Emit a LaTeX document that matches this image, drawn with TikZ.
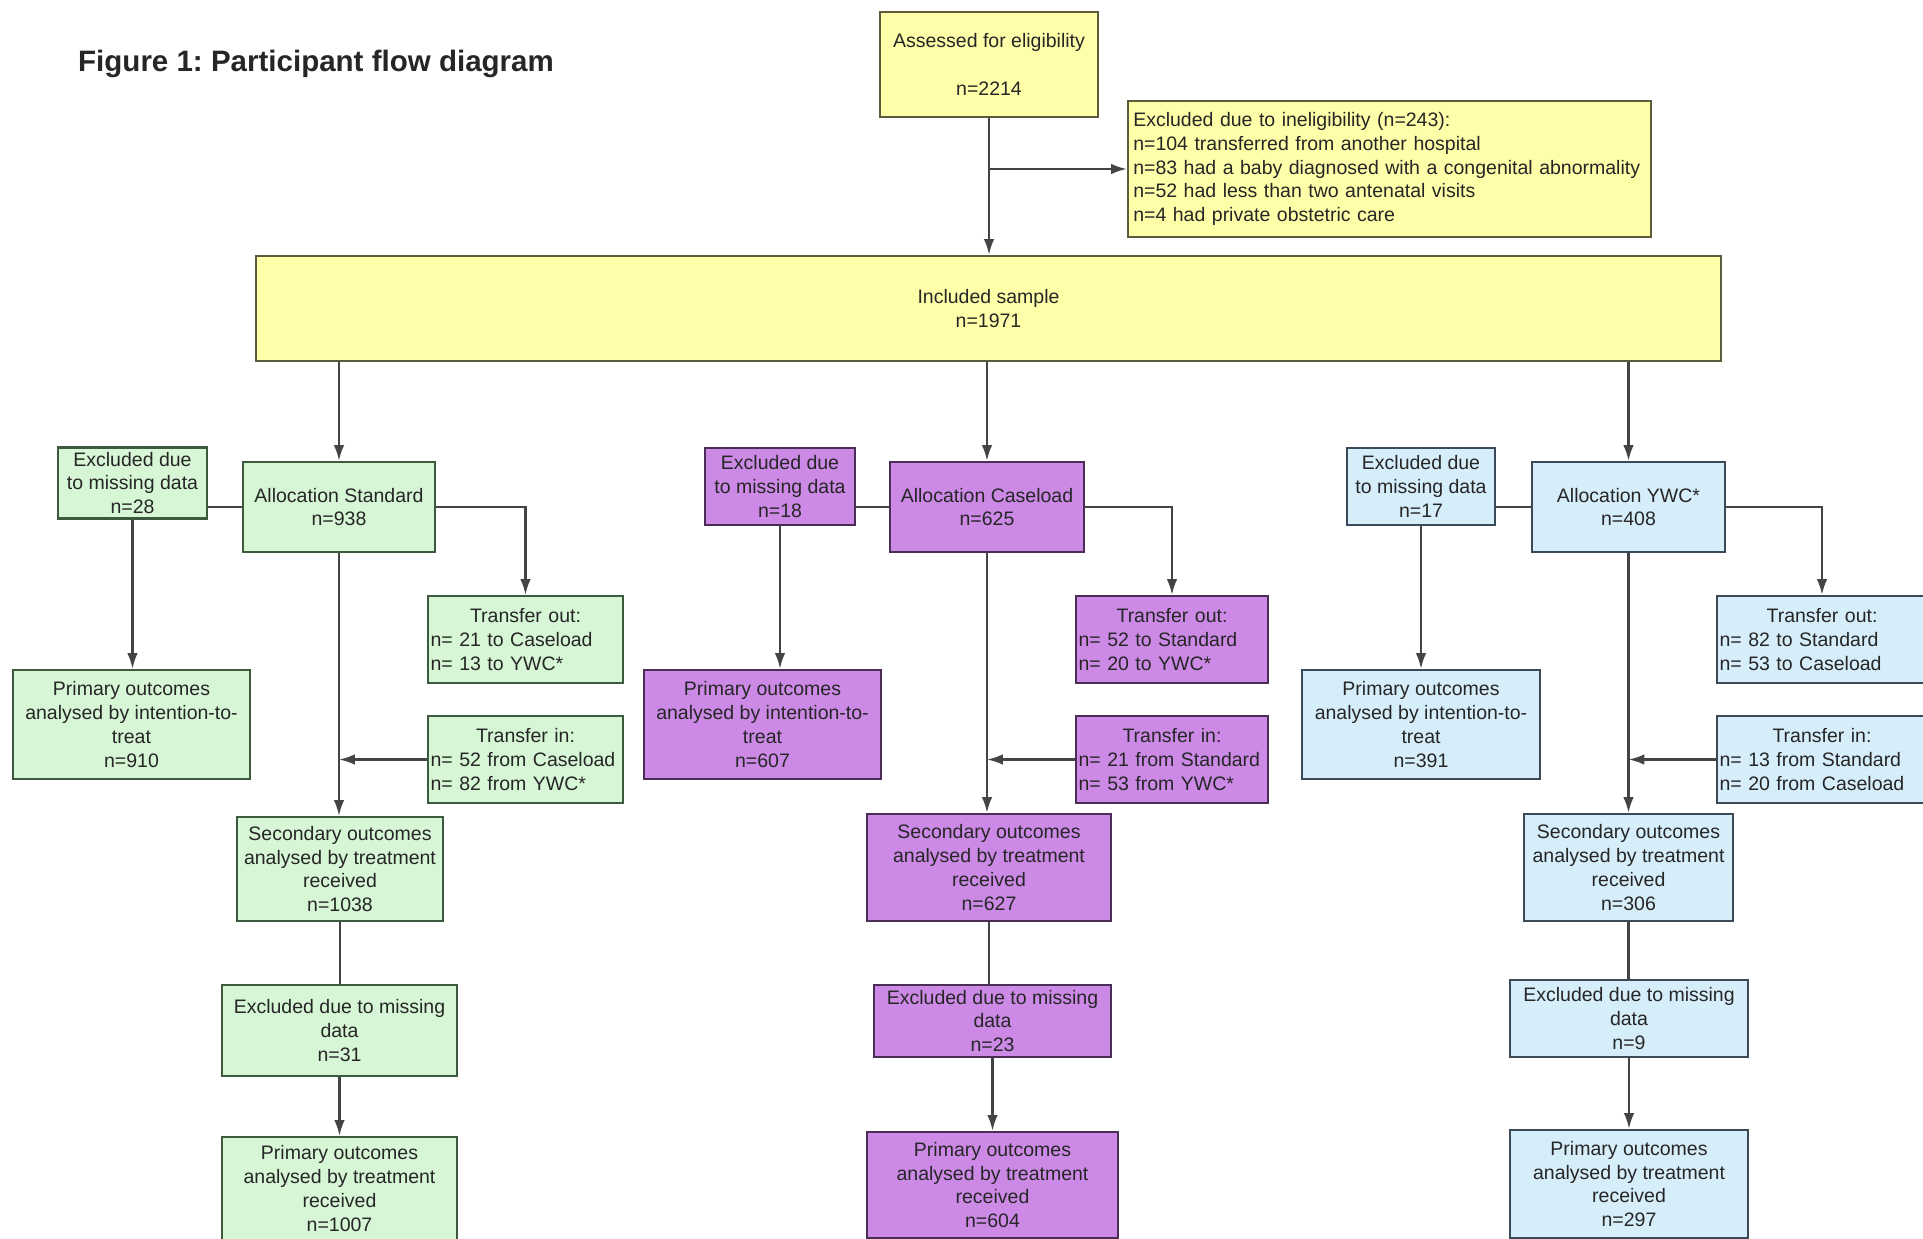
\documentclass[tikz,border=0pt]{standalone}
\usepackage{fontspec}
\setmainfont{Liberation Sans}
\usetikzlibrary{arrows.meta}
\frenchspacing

\definecolor{yfill}{HTML}{FFFFAA}
\definecolor{yline}{HTML}{5C5C3A}
\definecolor{gfill}{HTML}{D6F6D6}
\definecolor{gline}{HTML}{3E5A3E}
\definecolor{pfill}{HTML}{CC8AE6}
\definecolor{pline}{HTML}{4A2E58}
\definecolor{bfill}{HTML}{D6EDFA}
\definecolor{bline}{HTML}{3C4A58}
\definecolor{conncol}{HTML}{444444}

\begin{document}
\begin{tikzpicture}[x=0.02cm, y=-0.02cm,
  box/.style={draw, line width=1.3pt, inner sep=2.5pt, align=center,
    font=\fontsize{11.1}{13.6}\selectfont, text=black!85},
  ylw/.style={box, fill=yfill, draw=yline},
  grn/.style={box, fill=gfill, draw=gline},
  prp/.style={box, fill=pfill, draw=pline},
  blu/.style={box, fill=bfill, draw=bline},
  xfer/.style={inner xsep=1pt, align=left},
  conn/.style={draw=conncol, line width=1.3pt},
  arr/.style={conn, -{Latex[length=9pt,width=6pt]}}]
\useasboundingbox (0,0) rectangle (1923,1238);

% title and top part
\node[anchor=west, font=\bfseries\fontsize{16.8}{20}\selectfont, text=black!85] (title) at (72,64) {Figure 1: Participant flow diagram};
\node[ylw, minimum width=4.36cm, minimum height=2.1cm] (assess) at (989,64.5) {Assessed for eligibility\\[13.6pt] n=2214};
\node[ylw, minimum width=10.46cm, minimum height=2.72cm, text width=10.25cm, align=left] (inelig) at (1389.5,169)
  {Excluded due to ineligibility (n=243):\\ n=104 transferred from another hospital\\ n=83 had a baby diagnosed with a congenital abnormality\\ n=52 had less than two antenatal visits\\ n=4 had private obstetric care};
\node[ylw, minimum width=29.3cm, minimum height=2.1cm] (incl) at (988.5,308.5) {Included sample\\ n=1971};

% Standard
\node[grn, minimum width=2.98cm, minimum height=1.4cm] (exS) at (132.5,483) {Excluded due\\ to missing data\\ n=28};
\node[grn, minimum width=3.84cm, minimum height=1.8cm] (allocS) at (339,507) {Allocation Standard\\ n=938};
\node[grn, xfer, minimum width=3.9cm, minimum height=1.74cm, text width=3.8cm] (outS) at (525.5,639.5)
  {\makebox[\linewidth]{Transfer out:}\\ n= 21 to Caseload\\ n= 13 to YWC*};
\node[grn, minimum width=4.74cm, minimum height=2.18cm] (ittS) at (131.5,724.5) {Primary outcomes\\ analysed by intention-to-\\ treat\\ n=910};
\node[grn, xfer, minimum width=3.9cm, minimum height=1.74cm, text width=3.8cm] (inS) at (525.5,759.5)
  {\makebox[\linewidth]{Transfer in:}\\ n= 52 from Caseload\\ n= 82 from YWC*};
\node[grn, minimum width=4.12cm, minimum height=2.08cm] (secS) at (340,869) {Secondary outcomes\\ analysed by treatment\\ received\\ n=1038};
\node[grn, minimum width=4.7cm, minimum height=1.82cm] (exmS) at (339.5,1030.5) {Excluded due to missing\\ data\\ n=31};
\node[grn, minimum width=4.7cm, minimum height=2.06cm] (trS) at (339.5,1188.5) {Primary outcomes\\ analysed by treatment\\ received\\ n=1007};

% Caseload
\node[prp, minimum width=3.0cm, minimum height=1.54cm] (exC) at (780,486.5) {Excluded due\\ to missing data\\ n=18};
\node[prp, minimum width=3.88cm, minimum height=1.8cm] (allocC) at (987,507) {Allocation Caseload\\ n=625};
\node[prp, xfer, minimum width=3.84cm, minimum height=1.74cm, text width=3.74cm] (outC) at (1172,639.5)
  {\makebox[\linewidth]{Transfer out:}\\ n= 52 to Standard\\ n= 20 to YWC*};
\node[prp, minimum width=4.74cm, minimum height=2.18cm] (ittC) at (762.5,724.5) {Primary outcomes\\ analysed by intention-to-\\ treat\\ n=607};
\node[prp, xfer, minimum width=3.84cm, minimum height=1.74cm, text width=3.74cm] (inC) at (1172,759.5)
  {\makebox[\linewidth]{Transfer in:}\\ n= 21 from Standard\\ n= 53 from YWC*};
\node[prp, minimum width=4.88cm, minimum height=2.14cm] (secC) at (989,867.5) {Secondary outcomes\\ analysed by treatment\\ received\\ n=627};
\node[prp, minimum width=4.74cm, minimum height=1.44cm] (exmC) at (992.5,1021) {Excluded due to missing\\ data\\ n=23};
\node[prp, minimum width=5.02cm, minimum height=2.12cm] (trC) at (992.5,1185) {Primary outcomes\\ analysed by treatment\\ received\\ n=604};

% YWC
\node[blu, minimum width=2.96cm, minimum height=1.54cm] (exY) at (1421,486.5) {Excluded due\\ to missing data\\ n=17};
\node[blu, minimum width=3.86cm, minimum height=1.8cm] (allocY) at (1628.5,507) {Allocation YWC*\\ n=408};
\node[blu, xfer, minimum width=4.2cm, minimum height=1.74cm, text width=4.1cm] (outY) at (1822,639.5)
  {\makebox[\linewidth]{Transfer out:}\\ n= 82 to Standard\\ n= 53 to Caseload};
\node[blu, minimum width=4.76cm, minimum height=2.18cm] (ittY) at (1421,724.5) {Primary outcomes\\ analysed by intention-to-\\ treat\\ n=391};
\node[blu, xfer, minimum width=4.2cm, minimum height=1.74cm, text width=4.1cm] (inY) at (1822,759.5)
  {\makebox[\linewidth]{Transfer in:}\\ n= 13 from Standard\\ n= 20 from Caseload};
\node[blu, minimum width=4.18cm, minimum height=2.14cm] (secY) at (1628.5,867.5) {Secondary outcomes\\ analysed by treatment\\ received\\ n=306};
\node[blu, minimum width=4.76cm, minimum height=1.54cm] (exmY) at (1629,1018.5) {Excluded due to missing\\ data\\ n=9};
\node[blu, minimum width=4.76cm, minimum height=2.16cm] (trY) at (1629,1184) {Primary outcomes\\ analysed by treatment\\ received\\ n=297};

% connectors
\draw[arr] (assess.south) -- (assess.south |- incl.north);
\draw[arr] (assess.south |- inelig.west) -- (inelig.west);
\foreach \g in {S,C,Y} {
  \draw[arr] (incl.south -| alloc\g.north) -- (alloc\g.north);
  \draw[conn] (alloc\g.west) -- (alloc\g.west -| ex\g.east);
  \draw[arr] (ex\g.south) -- (ex\g.south |- itt\g.north);
  \draw[arr] (alloc\g.east) -| (out\g.north);
  \draw[arr] (alloc\g.south) -- (alloc\g.south |- sec\g.north);
  \draw[arr] (in\g.west) -- (in\g.west -| alloc\g.south);
  \draw[conn] (sec\g.south) -- (sec\g.south |- exm\g.north);
  \draw[arr] (exm\g.south) -- (exm\g.south |- tr\g.north);
}
\end{tikzpicture}
\end{document}
